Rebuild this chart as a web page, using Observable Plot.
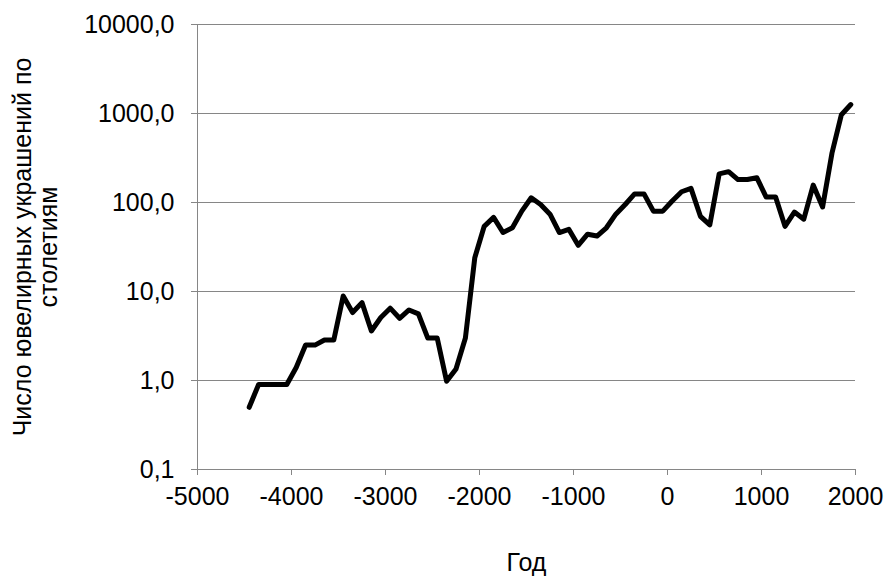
<!DOCTYPE html>
<html><head><meta charset="utf-8">
<script src="https://cdn.jsdelivr.net/npm/d3@7"></script>
<script src="https://cdn.jsdelivr.net/npm/@observablehq/plot@0.6"></script>
<style>body{margin:0;background:#fff;}</style>
</head><body><div id="chart"></div>
<script>
const years = [-4450,-4350,-4250,-4150,-4050,-3950,-3850,-3750,-3650,-3550,
  -3450,-3350,-3250,-3150,-3050,-2950,-2850,-2750,-2650,-2550,
  -2450,-2350,-2250,-2150,-2050,-1950,-1850,-1750,-1650,-1550,
  -1450,-1350,-1250,-1150,-1050,-950,-850,-750,-650,-550,
  -450,-350,-250,-150,-50,50,150,250,350,450,
  550,650,750,850,950,1050,1150,1250,1350,1450,
  1550,1650,1750,1850,1950];
const counts = [0.5,0.9,0.9,0.9,0.9,1.4,2.5,2.5,2.85,2.85,
  8.9,5.8,7.5,3.6,5.1,6.5,5.0,6.2,5.6,3.0,
  3.0,0.98,1.35,3.0,24,54,68,46,52,80,
  113,95,74,46,50,33,44,42,52,74,
  95,125,125,80,80,104,132,144,70,56,
  210,222,181,181,190,115,115,54,78,65,
  157,89,360,970,1260];
const xTicks = [-5000,-4000,-3000,-2000,-1000,0,1000,2000];
const yTicks = [0.1,1,10,100,1000,10000];
const yTitle = "Число ювелирных украшений по\nстолетиям";
const xTitle = "Год";
const data = years.map((year,i)=>({year, count: counts[i]}));
const fmt = d => d.toFixed(1).replace(".", ",");
const FS = 25;
const chart = Plot.plot({
  width: 889, height: 585,
  marginLeft:197, marginRight:34, marginTop:24, marginBottom:116,
  style: {fontFamily: "'Liberation Sans', Arial, sans-serif", fontSize: FS + "px", background: "white", color: "black"},
  x: {domain: [-5000,2000]},
  y: {type: "log", domain: [0.1, 10000]},
  marks: [
    Plot.gridY(yTicks, {stroke: "#868686", strokeOpacity: 1, strokeWidth: 1}),
    Plot.ruleX([-5000], {stroke:"#868686"}),
    Plot.axisY(yTicks, {tickSize: 6, tickPadding: 17, tickFormat: fmt, stroke: "#868686", fill: "black", fontSize: FS, label: null}),
    Plot.axisX(xTicks, {tickSize: 6, tickPadding: 12, tickFormat: d=>String(d), stroke:"#868686", fill:"black", fontSize: FS, label:null}),
    Plot.line(data, {x:"year", y:"count", stroke:"black", strokeWidth:5, strokeLinejoin:"round"}),
    Plot.text([yTitle], {frameAnchor:"left", textAnchor:"middle", rotate:-90, dx:-162, lineHeight:1.05, fontSize: FS, fill:"black"}),
    Plot.text([xTitle], {frameAnchor:"bottom", dy: 101, fontSize: FS, fill:"black"})
  ]
});
document.getElementById("chart").append(chart);
</script>
</body></html>
